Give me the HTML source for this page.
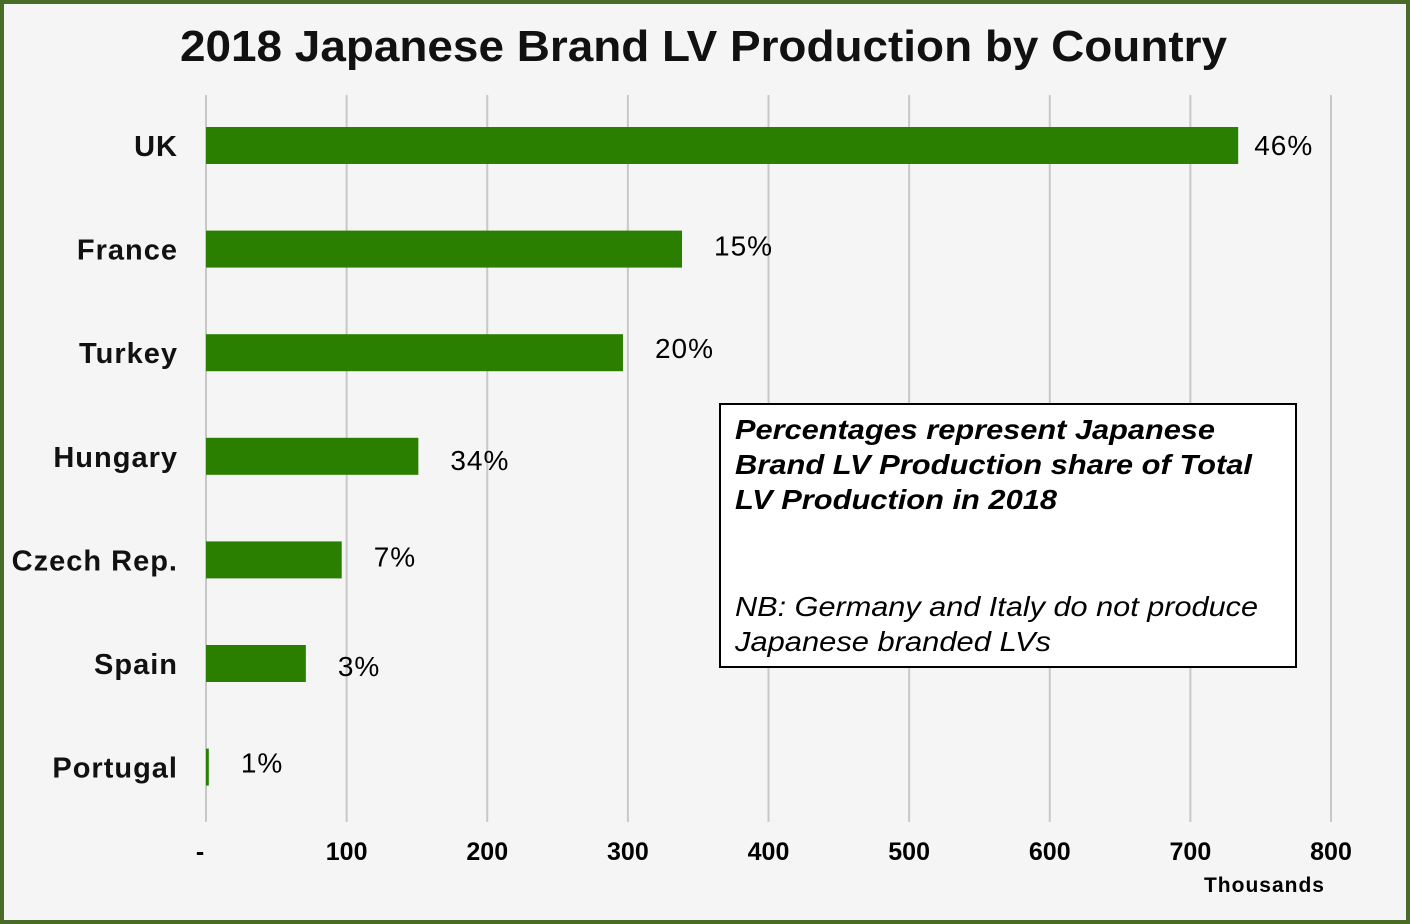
<!DOCTYPE html>
<html><head><meta charset="utf-8"><style>
html,body{margin:0;padding:0}
body{width:1410px;height:924px;background:#f5f5f5;font-family:"Liberation Sans",Arial,sans-serif;}
#frame{position:absolute;left:0;top:0;width:1402px;height:916px;border:4px solid #4a6a28;background:#f5f5f5}
</style></head><body>
<div id="frame"></div>
<svg id="chart" width="1410" height="924" style="position:absolute;left:0;top:0" xmlns="http://www.w3.org/2000/svg">
<text x="180" y="61" textLength="1047" lengthAdjust="spacingAndGlyphs" font-size="44" font-weight="bold" fill="#111">2018 Japanese Brand LV Production by Country</text>
<g id="grid"></g><g id="bars"></g><g id="labels"></g>
<g>
<rect x="720" y="404" width="576" height="263" fill="#fff" stroke="#000" stroke-width="2"/>
<text font-size="28" font-style="italic" font-weight="bold" fill="#000">
<tspan x="735" y="439" textLength="480" lengthAdjust="spacingAndGlyphs">Percentages represent Japanese</tspan>
<tspan x="735" y="474" textLength="517" lengthAdjust="spacingAndGlyphs">Brand LV Production share of Total</tspan>
<tspan x="735" y="509" textLength="322" lengthAdjust="spacingAndGlyphs">LV Production in 2018</tspan></text>
<text font-size="28" font-style="italic" fill="#000">
<tspan x="735" y="616" textLength="523" lengthAdjust="spacingAndGlyphs">NB: Germany and Italy do not produce</tspan>
<tspan x="735" y="651" textLength="316" lengthAdjust="spacingAndGlyphs">Japanese branded LVs</tspan></text>
</g>
<text x="1325" y="892" text-anchor="end" font-size="21" font-weight="bold" letter-spacing="1" fill="#000">Thousands</text>
</svg>
<script>
const categories=["UK","France","Turkey","Hungary","Czech Rep.","Spain","Portugal"];
const values=[734,338.5,296.5,151,96.5,71,2];
const shares=["46%","15%","20%","34%","7%","3%","1%"];
const ticks=[0,100,200,300,400,500,600,700,800];
const tickLabels=["-","100","200","300","400","500","600","700","800"];
const NS="http://www.w3.org/2000/svg";
const x=v=>206+v*(1331-206)/800;
const yTop=i=>127+i*103.6;
function mk(t,a,p){const e=document.createElementNS(NS,t);for(const k in a)e.setAttribute(k,a[k]);p.appendChild(e);return e;}
const grid=document.getElementById('grid'),bars=document.getElementById('bars'),labels=document.getElementById('labels');
ticks.forEach((t,i)=>{
 const l=mk('line',{x1:x(t),x2:x(t),y1:95,y2:822,stroke:'#c8c8c8','stroke-width':2},grid);
 
 
 const tx=mk('text',{x:x(t)-(i===0?6:0),y:860,'text-anchor':'middle','font-size':25,'font-weight':'bold',fill:'#000'},labels);
 tx.textContent=tickLabels[i];
 
 
});
categories.forEach((c,i)=>{
 const y=yTop(i);
 const r=mk('rect',{x:x(0),y:y,width:Math.max(x(values[i])-x(0),2),height:37,fill:'#2a7e00'},bars);
 
 
 const cl=mk('text',{x:178,y:y+29,'text-anchor':'end','font-size':29,'font-weight':'bold','letter-spacing':1,fill:'#111'},labels);
 cl.textContent=c;
 
 
 const pl=mk('text',{x:x(values[i])+16+(i>0?16:0),y:y+(i===0?28:i===3?32:i===5?31:i===6?24:i===4?25:i===2?24:25),'font-size':28,'letter-spacing':1,fill:'#000'},labels);
 pl.textContent=shares[i];
 
 
});
</script>
</body></html>
